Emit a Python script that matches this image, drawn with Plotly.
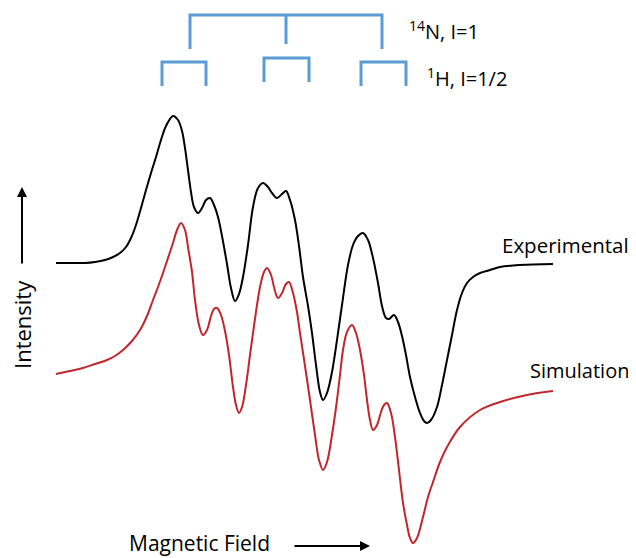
import plotly.graph_objects as go

# Magnetic field (arbitrary units) and intensity (arbitrary units)
exp_field = [0, 14, 29, 39, 49, 57, 64, 70, 75, 80, 85, 90, 95, 100, 105, 110, 117, 122, 126, 129, 132,
             135, 138, 142, 146, 150, 154, 158, 162, 166, 171, 175, 179, 183, 187, 192, 197, 202, 207,
             212, 216, 221, 226, 230, 234, 239, 243, 247, 252, 256, 260, 264, 267, 271, 276, 281, 286,
             292, 297, 302, 307, 312, 317, 322, 326, 330, 333, 338, 342, 346, 350, 354, 359, 364, 368,
             371, 375, 381, 386, 391, 396, 401, 406, 411, 417, 424, 434, 444, 464, 497]
exp_int = [0, 0, 0, 1, 3, 6, 10, 16, 25, 38, 55, 73, 90, 106, 123, 137, 147, 143, 132, 115, 93,
           71, 56, 50, 55, 63, 65, 58, 46, 27, -1, -25, -38, -31, -14, 18, 56, 75, 80,
           76, 70, 65, 69, 72, 63, 43, 17, -14, -43, -70, -102, -129, -137, -130, -109, -77, -42,
           -2, 18, 27, 30, 23, 5, -20, -43, -55, -56, -52, -59, -73, -92, -114, -134, -150, -158,
           -160, -157, -144, -122, -97, -72, -47, -30, -20, -14, -10, -7, -4, -2, -1]

sim_field = [0, 14, 27, 39, 51, 59, 67, 76, 84, 91, 97, 102, 107, 112, 117, 121, 125, 129, 132, 136,
             139, 143, 147, 151, 155, 158, 161, 165, 169, 173, 177, 180, 183, 186, 190, 194, 197, 201,
             204, 208, 211, 215, 219, 222, 226, 230, 233, 237, 241, 244, 249, 254, 259, 263, 267, 271,
             276, 281, 284, 287, 291, 296, 300, 304, 308, 311, 314, 317, 321, 325, 328, 331, 335, 339,
             343, 347, 351, 354, 357, 361, 367, 372, 377, 384, 391, 404, 424, 444, 471, 497]
sim_int = [0, 3, 6, 10, 14, 18, 24, 33, 44, 58, 74, 87, 101, 116, 131, 144, 151, 144, 127, 102,
           74, 49, 39, 44, 58, 65, 66, 59, 43, 19, -13, -31, -39, -33, -11, 19, 41, 69,
           87, 102, 106, 99, 83, 76, 81, 90, 92, 81, 62, 41, 8, -26, -61, -86, -96, -88,
           -61, -26, -1, 24, 42, 49, 41, 24, -1, -26, -46, -56, -51, -38, -31, -29, -39, -63,
           -96, -129, -151, -164, -169, -164, -143, -123, -108, -88, -73, -53, -36, -28, -21, -17]
sim_offset = -111

# Hyperfine stick positions (field units)
n_lines = [134, 230, 326]
h_pairs = [(106, 150), (208, 253), (305, 350)]

BLUE = "#5B9BD5"
RED = "#C0272D"
FONT = "Open Sans"

fig = go.Figure()
fig.add_trace(go.Scatter(x=exp_field, y=exp_int, mode="lines",
                         line=dict(color="black", width=2, shape="spline", smoothing=1.0),
                         hoverinfo="skip"))
fig.add_trace(go.Scatter(x=sim_field, y=[v + sim_offset for v in sim_int], mode="lines",
                         line=dict(color=RED, width=2, shape="spline", smoothing=1.0),
                         hoverinfo="skip"))

# 14N stick diagram
n_top, n_bot, n_mid_bot = 248, 214, 219
fig.add_trace(go.Scatter(x=[n_lines[0], n_lines[0], n_lines[2], n_lines[2]],
                         y=[n_bot, n_top, n_top, n_bot], mode="lines",
                         line=dict(color=BLUE, width=3), hoverinfo="skip"))
fig.add_trace(go.Scatter(x=[n_lines[1], n_lines[1]], y=[n_top, n_mid_bot], mode="lines",
                         line=dict(color=BLUE, width=3), hoverinfo="skip"))
# 1H stick diagram
h_tops = [201, 205, 201]
h_bots = [177, 181, 177]
for (a, b), t, bt in zip(h_pairs, h_tops, h_bots):
    fig.add_trace(go.Scatter(x=[a, a, b, b], y=[bt, t, t, bt], mode="lines",
                             line=dict(color=BLUE, width=3), hoverinfo="skip"))

tf = dict(family=FONT, size=20, color="black")
tf_exp = dict(family=FONT, size=20.5, color="black")
tf_big = dict(family=FONT, size=21, color="black")
tf_int = dict(family=FONT, size=22, color="black")
ann = [
    dict(x=444, y=18, text="Experimental", xanchor="left", yanchor="middle", showarrow=False, font=tf_exp),
    dict(x=472, y=-107, text="Simulation", xanchor="left", yanchor="middle", showarrow=False, font=tf),
    dict(x=351, y=233, text="<sup>14</sup>N, I=1", xanchor="left", yanchor="middle", showarrow=False, font=tf),
    dict(x=369, y=186, text="<sup>1</sup>H, I=1/2", xanchor="left", yanchor="middle", showarrow=False, font=tf),
    dict(x=143.5, y=-280, text="Magnetic Field", xanchor="center", yanchor="middle", showarrow=False, font=tf_big),
    dict(x=-34, y=-62, text="Intensity", textangle=-90, xanchor="center", yanchor="middle", showarrow=False, font=tf_int),
    # arrows
    dict(x=314, y=-283, ax=237, ay=-283, axref="x", ayref="y", xref="x", yref="y", text="",
         showarrow=True, arrowhead=2, arrowsize=1, arrowwidth=2, arrowcolor="black"),
    dict(x=-34, y=76, ax=-34, ay=-2, axref="x", ayref="y", xref="x", yref="y", text="",
         showarrow=True, arrowhead=2, arrowsize=1, arrowwidth=2, arrowcolor="black"),
]
# The page body adds an 8 px margin, so the figure is 628x550 and the
# axis ranges are set so the content fills the 636x558 window.
fig.update_layout(
    width=628, height=550, margin=dict(l=0, r=0, t=0, b=0),
    paper_bgcolor="white", plot_bgcolor="white", showlegend=False,
    annotations=ann,
    xaxis=dict(range=[-48, 580], visible=False, fixedrange=True),
    yaxis=dict(range=[-295, 255], visible=False, fixedrange=True),
)
fig.write_html("out.html")
